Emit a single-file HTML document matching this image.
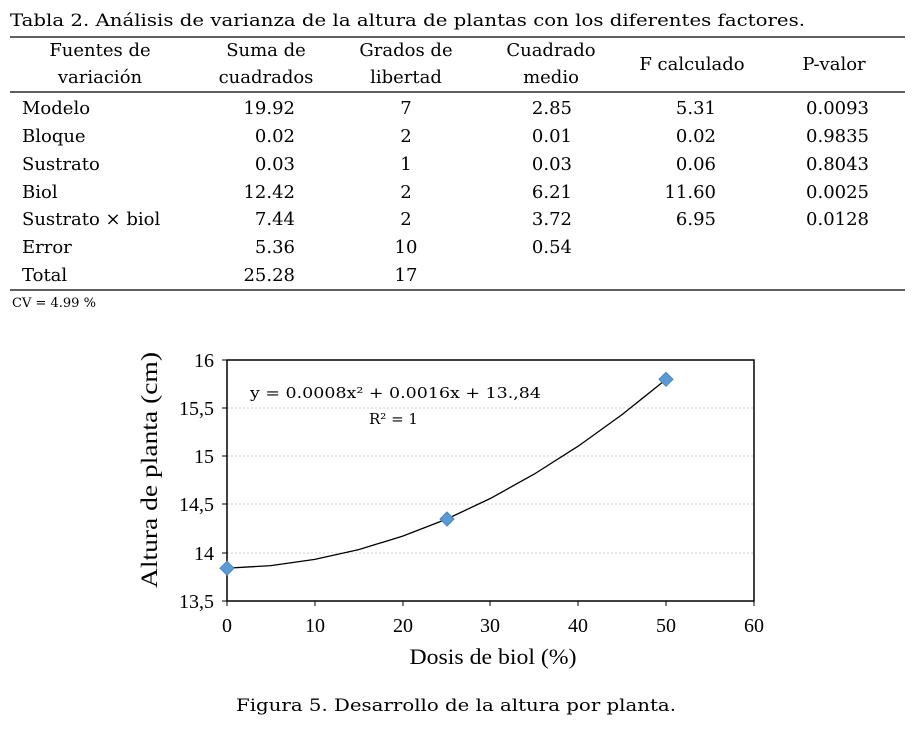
<!DOCTYPE html>
<html><head><meta charset="utf-8"><style>
html,body{margin:0;padding:0;background:#fff;}
svg text{font-family:"Liberation Serif",serif;fill:#000;}
svg .t text, svg text.t{font-family:"DejaVu Serif","Liberation Serif",serif;}
</style></head><body>
<svg width="917" height="735" xmlns="http://www.w3.org/2000/svg">
<text class="t" x="10" y="26" font-size="17" textLength="795" lengthAdjust="spacingAndGlyphs">Tabla 2. Análisis de varianza de la altura de plantas con los diferentes factores.</text>
<line x1="10" y1="37" x2="905" y2="37" stroke="#000" stroke-width="1.3"/>
<line x1="10" y1="92" x2="905" y2="92" stroke="#000" stroke-width="1.3"/>
<line x1="10" y1="290" x2="905" y2="290" stroke="#000" stroke-width="1.3"/>
<g class="t" font-size="18" text-anchor="middle">
<text x="100" y="56">Fuentes de</text><text x="100" y="83">variación</text>
<text x="266" y="56">Suma de</text><text x="266" y="83">cuadrados</text>
<text x="406" y="56">Grados de</text><text x="406" y="83">libertad</text>
<text x="551" y="56">Cuadrado</text><text x="551" y="83">medio</text>
<text x="692" y="70">F calculado</text>
<text x="834" y="70">P-valor</text>
</g>
<g class="t" font-size="18">
<text x="22" y="114">Modelo</text><text x="22" y="142">Bloque</text><text x="22" y="170">Sustrato</text>
<text x="22" y="198">Biol</text><text x="22" y="225">Sustrato × biol</text><text x="22" y="253">Error</text><text x="22" y="281">Total</text>
</g>
<g class="t" font-size="18" text-anchor="end">
<text x="295" y="114">19.92</text><text x="295" y="142">0.02</text><text x="295" y="170">0.03</text><text x="295" y="198">12.42</text><text x="295" y="225">7.44</text><text x="295" y="253">5.36</text><text x="295" y="281">25.28</text>
<text x="572" y="114">2.85</text><text x="572" y="142">0.01</text><text x="572" y="170">0.03</text><text x="572" y="198">6.21</text><text x="572" y="225">3.72</text><text x="572" y="253">0.54</text>
<text x="716" y="114">5.31</text><text x="716" y="142">0.02</text><text x="716" y="170">0.06</text><text x="716" y="198">11.60</text><text x="716" y="225">6.95</text>
<text x="869" y="114">0.0093</text><text x="869" y="142">0.9835</text><text x="869" y="170">0.8043</text><text x="869" y="198">0.0025</text><text x="869" y="225">0.0128</text>
</g>
<g class="t" font-size="18" text-anchor="middle">
<text x="406" y="114">7</text><text x="406" y="142">2</text><text x="406" y="170">1</text><text x="406" y="198">2</text><text x="406" y="225">2</text><text x="406" y="253">10</text><text x="406" y="281">17</text>
</g>
<text class="t" x="12" y="307" font-size="13">CV = 4.99 %</text>

<!-- chart -->
<g stroke="#ccc" stroke-width="1" stroke-dasharray="2,2">
<line x1="227" y1="408" x2="754" y2="408"/><line x1="227" y1="456" x2="754" y2="456"/>
<line x1="227" y1="504" x2="754" y2="504"/><line x1="227" y1="553" x2="754" y2="553"/>
</g>
<rect x="227" y="360" width="527" height="241" fill="none" stroke="#000" stroke-width="1.5"/>
<g stroke="#000" stroke-width="1">
<line x1="222" y1="360" x2="227" y2="360"/><line x1="222" y1="408" x2="227" y2="408"/><line x1="222" y1="456" x2="227" y2="456"/><line x1="222" y1="504" x2="227" y2="504"/><line x1="222" y1="553" x2="227" y2="553"/><line x1="222" y1="601" x2="227" y2="601"/>
<line x1="227" y1="601" x2="227" y2="606"/><line x1="315" y1="601" x2="315" y2="606"/><line x1="403" y1="601" x2="403" y2="606"/><line x1="490" y1="601" x2="490" y2="606"/><line x1="578" y1="601" x2="578" y2="606"/><line x1="666" y1="601" x2="666" y2="606"/><line x1="754" y1="601" x2="754" y2="606"/>
</g>
<g font-size="20" text-anchor="end">
<text x="214" y="367">16</text><text x="214" y="415">15,5</text><text x="214" y="463">15</text><text x="214" y="511">14,5</text><text x="214" y="560">14</text><text x="214" y="608">13,5</text>
</g>
<g font-size="20" text-anchor="middle">
<text x="227" y="632">0</text><text x="315" y="632">10</text><text x="403" y="632">20</text><text x="490" y="632">30</text><text x="578" y="632">40</text><text x="666" y="632">50</text><text x="754" y="632">60</text>
</g>
<text x="493" y="664" font-size="22" text-anchor="middle" textLength="167" lengthAdjust="spacingAndGlyphs">Dosis de biol (%)</text>
<text transform="translate(157,470) rotate(-90)" font-size="23" text-anchor="middle" textLength="236" lengthAdjust="spacingAndGlyphs">Altura de planta (cm)</text>
<text class="t" x="250" y="398" font-size="15" textLength="291" lengthAdjust="spacingAndGlyphs">y = 0.0008x² + 0.0016x + 13.,84</text>
<text class="t" x="369" y="424" font-size="15">R² = 1</text>
<polyline fill="none" stroke="#000" stroke-width="1.3" points="227,568.2 270.9,565.6 314.8,559.4 358.7,549.6 402.7,536.1 446.6,519.1 490.5,498.4 534.4,474 578.3,446.1 622.2,414.5 666.2,379.3"/>
<g fill="#5b9bd5" stroke="#4a86c0" stroke-width="1">
<path d="M227,561.2 L234,568.2 L227,575.2 L220,568.2Z"/>
<path d="M447,512 L454,519 L447,526 L440,519Z"/>
<path d="M666,372.3 L673,379.3 L666,386.3 L659,379.3Z"/>
</g>
<text class="t" x="456" y="711" font-size="17" text-anchor="middle" textLength="440" lengthAdjust="spacingAndGlyphs">Figura 5. Desarrollo de la altura por planta.</text>
</svg>
</body></html>
